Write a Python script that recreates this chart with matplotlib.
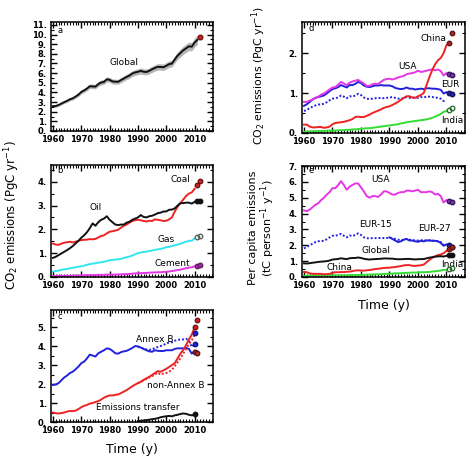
import numpy as np
import matplotlib
matplotlib.use("Agg")
import matplotlib.pyplot as plt
from matplotlib.ticker import MultipleLocator, FuncFormatter

# Data
years = np.arange(1960, 2011)
years_a = np.arange(1960, 2012)
years_90 = np.arange(1990, 2011)

# panel a - global fossil + cement emissions (PgC/yr)
glob = [2.58, 2.59, 2.70, 2.85, 3.00, 3.13, 3.29, 3.39, 3.57, 3.77, 4.05, 4.21, 4.40, 4.64, 4.62, 4.60,
        4.87, 5.03, 5.09, 5.36, 5.30, 5.14, 5.11, 5.10, 5.28, 5.44, 5.61, 5.75, 5.96, 6.07, 6.14, 6.23,
        6.14, 6.12, 6.24, 6.40, 6.54, 6.65, 6.64, 6.61, 6.76, 6.93, 6.99, 7.42, 7.81, 8.09, 8.37, 8.57,
        8.78, 8.74, 9.17, 9.45]
glob_proj = 9.7

# panel b - by fuel
coal = [1.40, 1.36, 1.35, 1.40, 1.44, 1.46, 1.48, 1.45, 1.48, 1.52, 1.55, 1.56, 1.57, 1.59, 1.58, 1.60,
        1.66, 1.72, 1.75, 1.83, 1.90, 1.92, 1.95, 1.98, 2.07, 2.15, 2.20, 2.28, 2.35, 2.38, 2.40, 2.38,
        2.35, 2.33, 2.36, 2.35, 2.42, 2.40, 2.38, 2.35, 2.36, 2.42, 2.50, 2.75, 2.95, 3.10, 3.25, 3.40,
        3.50, 3.55, 3.70]
oil = [0.80, 0.85, 0.92, 0.99, 1.06, 1.13, 1.21, 1.30, 1.41, 1.52, 1.65, 1.75, 1.88, 2.05, 2.25, 2.15,
       2.30, 2.40, 2.45, 2.55, 2.40, 2.30, 2.20, 2.18, 2.20, 2.20, 2.28, 2.32, 2.40, 2.45, 2.50, 2.60,
       2.52, 2.50, 2.55, 2.57, 2.62, 2.68, 2.70, 2.75, 2.75, 2.82, 2.83, 2.88, 3.00, 3.10, 3.10, 3.12,
       3.12, 3.08, 3.15]
gas = [0.23, 0.25, 0.27, 0.30, 0.32, 0.34, 0.36, 0.39, 0.41, 0.43, 0.45, 0.48, 0.51, 0.54, 0.56, 0.58,
       0.60, 0.62, 0.64, 0.67, 0.70, 0.72, 0.73, 0.74, 0.76, 0.80, 0.83, 0.86, 0.90, 0.95, 1.00, 1.03,
       1.05, 1.07, 1.09, 1.11, 1.14, 1.16, 1.18, 1.21, 1.25, 1.27, 1.30, 1.33, 1.36, 1.40, 1.44, 1.48,
       1.52, 1.52, 1.62]
cement = [0.04, 0.04, 0.04, 0.05, 0.05, 0.05, 0.05, 0.06, 0.06, 0.06, 0.07, 0.07, 0.08, 0.08, 0.08, 0.08,
          0.09, 0.09, 0.09, 0.10, 0.10, 0.10, 0.10, 0.11, 0.11, 0.12, 0.12, 0.13, 0.14, 0.15, 0.16, 0.16,
          0.17, 0.17, 0.18, 0.19, 0.19, 0.20, 0.20, 0.21, 0.22, 0.23, 0.25, 0.27, 0.29, 0.31, 0.34, 0.37,
          0.39, 0.41, 0.45]
coal_pts = [3.85, 4.02]
oil_pts = [3.17, 3.20]
gas_pts = [1.68, 1.70]
cement_pts = [0.48, 0.49]

# panel c - Annex B / non-Annex B
annexb = [1.95, 1.98, 2.05, 2.20, 2.35, 2.45, 2.58, 2.65, 2.78, 2.92, 3.10, 3.18, 3.35, 3.55, 3.50, 3.45,
          3.62, 3.70, 3.78, 3.88, 3.85, 3.75, 3.62, 3.60, 3.68, 3.72, 3.75, 3.82, 3.90, 4.00, 3.98, 3.92,
          3.85, 3.78, 3.72, 3.70, 3.78, 3.75, 3.74, 3.74, 3.78, 3.78, 3.78, 3.85, 3.88, 3.88, 3.88, 3.90,
          3.85, 3.60, 3.75]
annexb_cons = [3.98, 3.92, 3.86, 3.82, 3.80, 3.82, 3.90, 3.95, 4.00, 4.05, 4.15, 4.18, 4.20, 4.28, 4.32,
               4.35, 4.35, 4.38, 4.30, 3.95, 4.10]
nonannexb = [0.50, 0.46, 0.45, 0.47, 0.50, 0.55, 0.58, 0.57, 0.60, 0.68, 0.78, 0.85, 0.90, 0.97, 1.00, 1.05,
             1.10, 1.18, 1.28, 1.35, 1.40, 1.40, 1.43, 1.45, 1.52, 1.60, 1.68, 1.78, 1.88, 1.97, 2.05, 2.12,
             2.22, 2.30, 2.38, 2.48, 2.58, 2.68, 2.65, 2.72, 2.80, 2.90, 3.00, 3.10, 3.35, 3.60, 3.80, 4.05,
             4.35, 4.60, 5.00]
nonannexb_cons = [2.05, 2.10, 2.20, 2.27, 2.35, 2.42, 2.50, 2.60, 2.50, 2.55, 2.58, 2.65, 2.75, 2.95, 3.15,
                  3.35, 3.60, 3.85, 4.10, 4.30, 4.60]
transfer = [0.05, 0.06, 0.08, 0.10, 0.12, 0.15, 0.17, 0.20, 0.25, 0.28, 0.30, 0.32, 0.30, 0.35, 0.38,
            0.42, 0.45, 0.43, 0.38, 0.35, 0.38]
annexb_pts = [4.68, 4.10]
nonannexb_pts = [5.02, 5.35]
brown_pts = [3.68, 3.66]
transfer_pt = 0.40

# panel d - regions (PgC/yr)
china = [0.21, 0.21, 0.16, 0.14, 0.14, 0.15, 0.15, 0.13, 0.14, 0.16, 0.22, 0.25, 0.26, 0.27, 0.28, 0.30,
         0.32, 0.35, 0.40, 0.41, 0.40, 0.40, 0.43, 0.46, 0.50, 0.53, 0.56, 0.59, 0.63, 0.65, 0.67, 0.70,
         0.74, 0.78, 0.83, 0.88, 0.92, 0.92, 0.89, 0.88, 0.92, 0.95, 1.00, 1.20, 1.40, 1.58, 1.72, 1.82,
         1.88, 2.00, 2.20]
usa = [0.78, 0.78, 0.81, 0.84, 0.88, 0.91, 0.96, 0.99, 1.04, 1.09, 1.14, 1.15, 1.21, 1.28, 1.24, 1.20,
       1.26, 1.29, 1.31, 1.33, 1.28, 1.24, 1.18, 1.18, 1.22, 1.23, 1.23, 1.28, 1.33, 1.35, 1.36, 1.34,
       1.36, 1.39, 1.41, 1.43, 1.47, 1.49, 1.50, 1.52, 1.56, 1.53, 1.54, 1.56, 1.58, 1.59, 1.57, 1.59,
       1.55, 1.44, 1.50]
eur27 = [0.68, 0.72, 0.78, 0.84, 0.88, 0.90, 0.92, 0.94, 0.99, 1.05, 1.10, 1.12, 1.15, 1.20, 1.17, 1.14,
         1.20, 1.20, 1.23, 1.28, 1.25, 1.19, 1.16, 1.15, 1.17, 1.19, 1.19, 1.20, 1.19, 1.19, 1.19, 1.17,
         1.13, 1.11, 1.10, 1.11, 1.14, 1.11, 1.11, 1.09, 1.10, 1.11, 1.10, 1.12, 1.12, 1.11, 1.11, 1.10,
         1.08, 0.99, 1.02]
eur15 = [0.55, 0.58, 0.62, 0.66, 0.69, 0.71, 0.72, 0.73, 0.77, 0.82, 0.86, 0.87, 0.89, 0.94, 0.91, 0.87,
         0.92, 0.91, 0.94, 0.98, 0.95, 0.89, 0.86, 0.85, 0.86, 0.87, 0.87, 0.88, 0.87, 0.88, 0.89, 0.90,
         0.88, 0.86, 0.86, 0.87, 0.90, 0.88, 0.89, 0.88, 0.88, 0.90, 0.89, 0.91, 0.91, 0.90, 0.89, 0.88,
         0.86, 0.80, 0.81]
india = [0.03, 0.03, 0.04, 0.04, 0.04, 0.05, 0.05, 0.05, 0.06, 0.06, 0.06, 0.06, 0.07, 0.07, 0.07, 0.08,
         0.08, 0.09, 0.09, 0.10, 0.10, 0.11, 0.12, 0.12, 0.13, 0.14, 0.15, 0.16, 0.17, 0.18, 0.19, 0.20,
         0.21, 0.22, 0.24, 0.25, 0.27, 0.28, 0.29, 0.30, 0.31, 0.32, 0.33, 0.34, 0.36, 0.38, 0.41, 0.44,
         0.48, 0.53, 0.55]
china_pts = [2.25, 2.50]
usa_pts = [1.49, 1.45]
eur_pts = [1.00, 0.98]
india_pts = [0.58, 0.62]

# panel e - per capita (tC/person/yr)
usa_pc = [4.20, 4.15, 4.25, 4.40, 4.55, 4.65, 4.85, 5.00, 5.20, 5.35, 5.60, 5.60, 5.80, 6.05, 5.80, 5.50,
          5.70, 5.80, 5.90, 5.90, 5.65, 5.40, 5.10, 5.00, 5.10, 5.10, 5.05, 5.20, 5.40, 5.40, 5.30, 5.20,
          5.20, 5.30, 5.35, 5.35, 5.45, 5.45, 5.40, 5.45, 5.50, 5.35, 5.35, 5.35, 5.40, 5.35, 5.20, 5.25,
          5.10, 4.70, 4.85]
eur15_pc = [1.80, 1.90, 2.00, 2.10, 2.20, 2.25, 2.27, 2.28, 2.38, 2.50, 2.60, 2.60, 2.65, 2.72, 2.60, 2.50,
            2.62, 2.58, 2.65, 2.75, 2.65, 2.50, 2.45, 2.43, 2.45, 2.45, 2.45, 2.47, 2.45, 2.46, 2.47, 2.45,
            2.40, 2.35, 2.33, 2.35, 2.40, 2.35, 2.33, 2.30, 2.30, 2.32, 2.30, 2.32, 2.32, 2.30, 2.28, 2.25,
            2.20, 2.02, 2.07]
eur27_pc = [2.50, 2.40, 2.30, 2.20, 2.25, 2.35, 2.40, 2.30, 2.30, 2.25, 2.22, 2.28, 2.25, 2.30, 2.30,
            2.28, 2.28, 2.25, 2.15, 1.97, 2.05]
glob_pc = [0.86, 0.85, 0.87, 0.90, 0.92, 0.95, 0.97, 0.98, 1.00, 1.04, 1.10, 1.12, 1.14, 1.18, 1.15, 1.13,
           1.18, 1.20, 1.20, 1.23, 1.20, 1.15, 1.12, 1.10, 1.12, 1.13, 1.14, 1.15, 1.17, 1.17, 1.16, 1.16,
           1.13, 1.12, 1.12, 1.13, 1.14, 1.14, 1.12, 1.11, 1.12, 1.13, 1.13, 1.18, 1.22, 1.25, 1.28, 1.30,
           1.31, 1.29, 1.34]
china_pc = [0.32, 0.30, 0.23, 0.20, 0.20, 0.20, 0.20, 0.17, 0.18, 0.20, 0.27, 0.30, 0.30, 0.31, 0.31, 0.33,
            0.34, 0.37, 0.41, 0.42, 0.41, 0.40, 0.42, 0.44, 0.47, 0.50, 0.52, 0.54, 0.57, 0.58, 0.59, 0.61,
            0.63, 0.66, 0.69, 0.73, 0.75, 0.75, 0.71, 0.70, 0.72, 0.74, 0.78, 0.93, 1.08, 1.21, 1.31, 1.38,
            1.42, 1.50, 1.64]
india_pc = [0.08, 0.08, 0.09, 0.09, 0.09, 0.10, 0.10, 0.10, 0.10, 0.10, 0.10, 0.10, 0.10, 0.11, 0.11, 0.11,
            0.12, 0.12, 0.12, 0.13, 0.13, 0.14, 0.15, 0.15, 0.16, 0.17, 0.17, 0.18, 0.19, 0.20, 0.21, 0.22,
            0.23, 0.23, 0.24, 0.25, 0.26, 0.27, 0.28, 0.28, 0.29, 0.30, 0.30, 0.31, 0.32, 0.34, 0.36, 0.38,
            0.41, 0.44, 0.46]
usa_pc_pts = [4.80, 4.70]
eur_pc_pts = [2.00, 1.92]
glob_pc_pts = [1.37, 1.39]
china_pc_pts = [1.75, 1.90]
india_pc_pts = [0.50, 0.55]

pt_years = [2011, 2012]

# Colours
RED = '#ee2222'
BLACK = '#111111'
CYAN = '#33e5ee'
MAG = '#e535e5'
BLUE = '#2222dd'
GREEN = '#33dd33'

W, H = 475, 459
fig = plt.figure(figsize=(W / 100, H / 100), dpi=100)


def box(l, t, r, b):
    return [l / W, 1 - b / H, (r - l) / W, (b - t) / H]


def style(ax, ytop, ymin_step=0.5):
    ax.set_xlim(1959.3, 2016.5)
    ax.set_ylim(0, ytop)
    ax.xaxis.set_major_locator(MultipleLocator(10))
    ax.xaxis.set_minor_locator(MultipleLocator(1))
    ax.yaxis.set_major_locator(MultipleLocator(1))
    ax.yaxis.set_minor_locator(MultipleLocator(ymin_step))
    ax.yaxis.set_major_formatter(FuncFormatter(lambda v, p: f"{int(round(v))}."))
    ax.tick_params(which='both', direction='in', top=True, right=True, labelsize=6)
    ax.tick_params(axis='x', pad=3)
    ax.tick_params(axis='y', pad=3)
    ax.tick_params(which='major', length=4, width=1)
    ax.tick_params(which='minor', length=2, width=0.8)
    for lab in ax.get_xticklabels() + ax.get_yticklabels():
        lab.set_fontweight('bold')
    for s in ax.spines.values():
        s.set_linewidth(1.1)


def dots(ax, xs, ys, fc, ec, open_=False):
    ax.plot(xs, ys, 'o', ms=3.3, mfc='none' if open_ else fc, mec=ec, mew=0.9, zorder=5)


lw = 1.4
dot_ls = (0, (1, 1))
tfs = 6.5

# a
ax = fig.add_axes(box(51, 22, 213, 131))
g = np.array(glob)
ax.fill_between(years_a, g * 0.95, g * 1.05, color='#b5b5b5', lw=0)
ax.plot(years_a, glob, color=BLACK, lw=lw)
ax.plot([2012], [glob_proj], 'o', ms=3.3, color='#cc2222', mec='#771111')
style(ax, 11.3)
ax.text(1961.5, 10.2, 'a', fontsize=6)
ax.text(1985, 7.1, 'Global', fontsize=tfs, ha='center', va='center')

# b
ax = fig.add_axes(box(51, 165, 213, 277))
ax.plot(years, coal, color=RED, lw=lw)
ax.plot(years, oil, color=BLACK, lw=lw)
ax.plot(years, gas, color=CYAN, lw=lw)
ax.plot(years, cement, color=MAG, lw=lw)
dots(ax, pt_years, coal_pts, '#cc2222', '#661111')
dots(ax, pt_years, oil_pts, BLACK, BLACK)
dots(ax, pt_years, gas_pts, CYAN, '#555555', open_=True)
dots(ax, pt_years, cement_pts, '#aa22aa', '#552255')
style(ax, 4.7)
ax.text(1961.5, 4.35, 'b', fontsize=6)
ax.text(2005, 4.1, 'Coal', fontsize=tfs, ha='center', va='center')
ax.text(1975, 2.9, 'Oil', fontsize=tfs, ha='center', va='center')
ax.text(2000, 1.59, 'Gas', fontsize=tfs, ha='center', va='center')
ax.text(2002, 0.58, 'Cement', fontsize=tfs, ha='center', va='center')

# c
ax = fig.add_axes(box(51, 310, 213, 422))
ax.plot(years, annexb, color=BLUE, lw=lw)
ax.plot(years_90, annexb_cons, color=BLUE, lw=lw, ls=dot_ls)
ax.plot(years, nonannexb, color=RED, lw=lw)
ax.plot(years_90, nonannexb_cons, color=RED, lw=lw, ls=dot_ls)
ax.plot(years_90, transfer, color=BLACK, lw=lw)
dots(ax, [2010, 2010], annexb_pts, BLUE, '#111177')
dots(ax, [2010, 2011], nonannexb_pts, '#cc2222', '#661111')
dots(ax, [2010, 2011], brown_pts, '#aa3322', '#551111')
dots(ax, [2010], [transfer_pt], BLACK, BLACK)
style(ax, 5.9)
ax.text(1961.5, 5.45, 'c', fontsize=6)
ax.text(1995.8, 4.35, 'Annex B', fontsize=tfs, ha='center', va='center')
ax.text(2003.5, 1.91, 'non-Annex B', fontsize=tfs, ha='center', va='center')
ax.text(1990, 0.75, 'Emissions transfer', fontsize=tfs, ha='center', va='center')
fig.text(132 / W, 1 - 449 / H, 'Time (y)', fontsize=9, ha='center', va='center')

# d
ax = fig.add_axes(box(302, 22, 465, 133))
ax.plot(years, india, color=GREEN, lw=lw)
ax.plot(years, eur15, color=BLUE, lw=lw, ls=dot_ls)
ax.plot(years, eur27, color=BLUE, lw=lw)
ax.plot(years, usa, color=MAG, lw=lw)
ax.plot(years, china, color=RED, lw=lw)
dots(ax, pt_years, china_pts, '#aa2222', '#551111')
dots(ax, pt_years, usa_pts, '#7733aa', '#331155')
dots(ax, pt_years, eur_pts, '#2222aa', '#111155')
dots(ax, pt_years, india_pts, GREEN, '#226622', open_=True)
style(ax, 2.78)
ax.text(1961.5, 2.55, 'd', fontsize=6)
ax.text(2005.3, 2.37, 'China', fontsize=tfs, ha='center', va='center')
ax.text(1996.4, 1.66, 'USA', fontsize=tfs, ha='center', va='center')
ax.text(2011.4, 1.22, 'EUR', fontsize=tfs, ha='center', va='center')
ax.text(2012, 0.31, 'India', fontsize=tfs, ha='center', va='center')
fig.text(259 / W, 1 - 76 / H, 'CO$_2$ emissions (PgC yr$^{-1}$)', fontsize=7.8,
         rotation=90, ha='center', va='center')

# e
ax = fig.add_axes(box(302, 166, 465, 277))
ax.plot(years, india_pc, color=GREEN, lw=lw)
ax.plot(years, china_pc, color=RED, lw=lw)
ax.plot(years, glob_pc, color=BLACK, lw=lw)
ax.plot(years, eur15_pc, color=BLUE, lw=lw, ls=dot_ls)
ax.plot(years_90, eur27_pc, color=BLUE, lw=lw)
ax.plot(years, usa_pc, color=MAG, lw=lw)
dots(ax, pt_years, usa_pc_pts, '#7733aa', '#331155')
dots(ax, pt_years, eur_pc_pts, '#2222aa', '#111155')
dots(ax, pt_years, china_pc_pts, '#aa2222', '#551111')
dots(ax, pt_years, glob_pc_pts, BLACK, BLACK)
dots(ax, pt_years, india_pc_pts, GREEN, '#226622', open_=True)
style(ax, 7.0)
ax.text(1961.5, 6.55, 'e', fontsize=6)
ax.text(1987, 6.16, 'USA', fontsize=tfs, ha='center', va='center')
ax.text(1985.2, 3.28, 'EUR-15', fontsize=tfs, ha='center', va='center')
ax.text(2005.6, 3.03, 'EUR-27', fontsize=tfs, ha='center', va='center')
ax.text(1985.2, 1.7, 'Global', fontsize=tfs, ha='center', va='center')
ax.text(1972.3, 0.61, 'China', fontsize=tfs, ha='center', va='center')
ax.text(2012, 0.8, 'India', fontsize=tfs, ha='center', va='center')
fig.text(253 / W, 1 - 228 / H, 'Per capita emissions', fontsize=8,
         rotation=90, ha='center', va='center')
fig.text(268 / W, 1 - 228 / H, '(tC person$^{-1}$ y$^{-1}$)', fontsize=8,
         rotation=90, ha='center', va='center')
fig.text(384 / W, 1 - 305 / H, 'Time (y)', fontsize=9, ha='center', va='center')

# shared ylabel for left column
fig.text(12 / W, 1 - 215 / H, 'CO$_2$ emissions (PgC yr$^{-1}$)', fontsize=8.5,
         rotation=90, ha='center', va='center')

fig.savefig('out.png', dpi=100)
